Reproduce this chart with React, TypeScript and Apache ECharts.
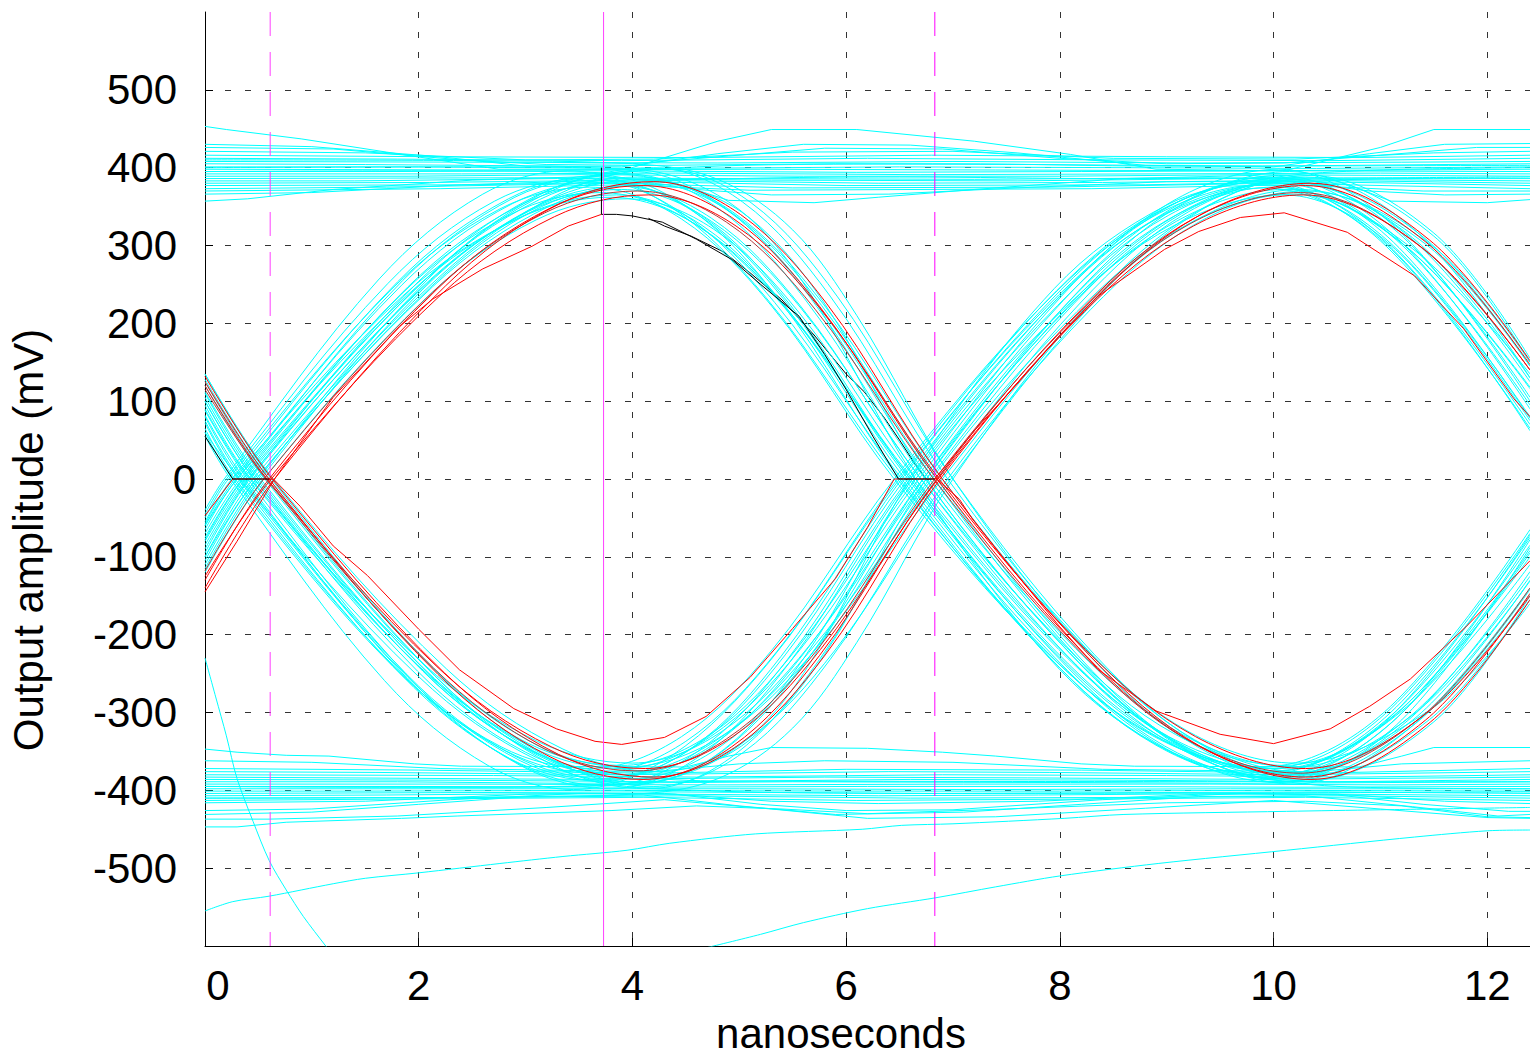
import React, { useEffect, useRef } from 'react';
import * as echarts from 'echarts';

type Pt = [number, number];

// ---- axes ----
const xTicks = [0, 2, 4, 6, 8, 10, 12];
const yTicks = [-500, -400, -300, -200, -100, 0, 100, 200, 300, 400, 500];
const xRange = [0, 12.4];
const yRange = [-600, 600];

// ---- vertical marker lines (ns) ----
const markerDashedLeft = 0.61;
const markerSolid = 3.73;
const markerDashedRight = 6.83;

// ---- cyan traces: rising first (low -> high -> low) ----
const cyanRiseFirst: Pt[][] = [
  [[0, -55], [0.25, 0], [1.8, 253], [2.84, 360], [3.7, 390], [4.54, 347], [5.38, 229], [6.5, 0], [7.86, -223], [8.88, -339], [9.9, -380], [11.04, -307], [12.4, -75]],
  [[0, -75], [0.35, 0], [1.9, 247], [2.94, 351], [3.8, 380], [4.64, 339], [5.48, 223], [6.6, 0], [7.96, -221], [8.98, -334], [10.0, -375], [11.14, -303], [12.4, -92]],
  [[0, -95], [0.42, 0], [1.99, 241], [3.03, 344], [3.9, 372], [4.74, 331], [5.58, 219], [6.7, 0], [8.06, -226], [9.08, -343], [10.1, -385], [11.25, -311], [12.4, -119]],
  [[0, -110], [0.5, 0], [2.08, 256], [3.13, 365], [4.0, 395], [4.83, 352], [5.67, 232], [6.78, 0], [8.15, -218], [9.17, -330], [10.2, -370], [11.34, -299], [12.4, -131]],
  [[0, -65], [0.3, 0], [1.9, 237], [2.96, 337], [3.85, 365], [4.66, 325], [5.47, 215], [6.55, 0], [7.95, -229], [9.0, -347], [10.05, -390], [11.15, -316], [12.4, -88]],
  [[0, -85], [0.4, 0], [2.07, 250], [3.18, 356], [4.1, 385], [4.94, 343], [5.78, 226], [6.9, 0], [8.22, -215], [9.21, -325], [10.2, -365], [11.48, -295], [12.4, -160]],
  [[0, -120], [0.55, 0], [2.08, 234], [3.1, 333], [3.95, 360], [4.76, 321], [5.57, 212], [6.65, 0], [8.03, -222], [9.07, -337], [10.1, -378], [11.16, -306], [12.4, -78]],
  [[0, -100], [0.45, 0], [2.18, 258], [3.34, 368], [4.3, 398], [5.11, 355], [5.92, 234], [7.0, 0], [8.32, -225], [9.31, -340], [10.3, -382], [11.46, -309], [12.4, -155]],
  [[0, -50], [0.22, 0], [1.74, 243], [2.76, 347], [3.6, 375], [4.46, 334], [5.31, 221], [6.45, 0], [7.85, -219], [8.9, -331], [9.95, -372], [11.05, -301], [12.4, -70]],
  [[0, -80], [0.38, 0], [2.03, 252], [3.13, 359], [4.05, 388], [4.88, 346], [5.71, 228], [6.82, 0], [8.15, -228], [9.15, -346], [10.15, -388], [11.33, -314], [12.4, -142]],
  [[0, -60], [0.28, 0], [1.84, 249], [2.88, 354], [3.75, 383], [4.6, 341], [5.45, 225], [6.58, 0], [7.94, -221], [8.96, -335], [9.98, -376], [11.1, -304], [12.4, -85]],
  [[0, -90], [0.41, 0], [2.0, 254], [3.07, 362], [3.95, 392], [4.79, 349], [5.62, 230], [6.74, 0], [8.09, -223], [9.11, -339], [10.12, -380], [11.26, -307], [12.4, -125]],
  [[0, -70], [0.33, 0], [1.85, 239], [2.86, 340], [3.7, 368], [4.58, 328], [5.45, 216], [6.62, 0], [7.99, -219], [9.02, -331], [10.05, -372], [11.15, -301], [12.4, -100]],
  [[0, -105], [0.48, 0], [2.13, 247], [3.23, 351], [4.15, 380], [4.96, 339], [5.77, 223], [6.85, 0], [8.19, -230], [9.2, -349], [10.2, -392], [11.3, -317], [12.4, -140]],
  [[0, -45], [0.2, 0], [1.71, 251], [2.71, 357], [3.55, 386], [4.44, 344], [5.33, 227], [6.52, 0], [7.88, -226], [8.9, -342], [9.92, -384], [11.05, -311], [12.4, -72]],
  [[0, -115], [0.52, 0], [2.04, 244], [3.06, 347], [3.9, 376], [4.74, 335], [5.58, 221], [6.7, 0], [8.06, -216], [9.08, -328], [10.1, -368], [11.2, -298], [12.4, -110]],
  [[0, -78], [0.36, 0], [2.09, 260], [3.24, 370], [4.2, 400], [5.03, 356], [5.85, 235], [6.95, 0], [8.27, -221], [9.26, -335], [10.25, -376], [11.4, -304], [12.4, -148]],
  [[0, -58], [0.26, 0], [1.85, 235], [2.92, 334], [3.8, 362], [4.64, 323], [5.48, 213], [6.6, 0], [7.96, -226], [8.98, -343], [10.0, -385], [11.12, -311], [12.4, -95]],
  [[0, -40], [0.18, 0], [1.63, 257], [2.6, 366], [3.4, 396], [4.32, 353], [5.25, 233], [6.48, 0], [7.85, -218], [8.87, -330], [9.9, -370], [11.04, -299], [12.4, -65]],
];

// ---- cyan traces: falling first (high -> low -> high) ----
const cyanFallFirst: Pt[][] = [
  [[0, 80], [0.35, 0], [1.88, -250], [2.9, -356], [3.75, -385], [4.59, -343], [5.43, -226], [6.55, 0], [7.91, 222], [8.93, 337], [9.95, 378], [11.07, 306], [12.4, 80]],
  [[0, 110], [0.5, 0], [2.03, -241], [3.05, -344], [3.9, -372], [4.73, -331], [5.57, -219], [6.68, 0], [8.03, 229], [9.04, 347], [10.05, 390], [11.17, 316], [12.4, 105]],
  [[0, 135], [0.62, 0], [2.23, -256], [3.31, -365], [4.2, -395], [5.03, -352], [5.85, -232], [6.95, 0], [8.29, 218], [9.3, 330], [10.3, 370], [11.49, 299], [12.4, 150]],
  [[0, 65], [0.28, 0], [1.8, -245], [2.81, -349], [3.65, -378], [4.5, -337], [5.35, -222], [6.48, 0], [7.85, 225], [8.87, 340], [9.9, 382], [11.01, 309], [12.4, 70]],
  [[0, 95], [0.43, 0], [2.04, -237], [3.11, -337], [4.0, -365], [4.83, -325], [5.65, -215], [6.75, 0], [8.11, 232], [9.13, 352], [10.15, 395], [11.32, 320], [12.4, 130]],
  [[0, 120], [0.56, 0], [2.15, -253], [3.22, -360], [4.1, -390], [4.86, -347], [5.61, -229], [6.62, 0], [8.01, 215], [9.06, 325], [10.1, 365], [11.14, 295], [12.4, 75]],
  [[0, 100], [0.46, 0], [1.99, -247], [3.0, -351], [3.85, -380], [4.75, -339], [5.65, -223], [6.85, 0], [8.19, 226], [9.2, 343], [10.2, 385], [11.4, 311], [12.4, 145]],
  [[0, 75], [0.33, 0], [2.0, -254], [3.12, -362], [4.05, -392], [4.85, -349], [5.65, -230], [6.72, 0], [8.03, 220], [9.02, 334], [10.0, 375], [11.2, 303], [12.4, 116]],
  [[0, 128], [0.6, 0], [2.11, -240], [3.11, -342], [3.95, -370], [4.84, -330], [5.72, -218], [6.9, 0], [8.24, 219], [9.25, 331], [10.25, 372], [11.43, 301], [12.4, 145]],
  [[0, 88], [0.4, 0], [1.93, -258], [2.95, -368], [3.8, -398], [4.64, -355], [5.48, -234], [6.6, 0], [7.98, 223], [9.02, 339], [10.05, 380], [11.15, 307], [12.4, 95]],
  [[0, 72], [0.31, 0], [1.84, -252], [2.85, -359], [3.7, -388], [4.55, -346], [5.39, -228], [6.52, 0], [7.89, 226], [8.92, 343], [9.95, 385], [11.07, 311], [12.4, 78]],
  [[0, 105], [0.48, 0], [2.04, -247], [3.08, -351], [3.95, -380], [4.78, -339], [5.61, -223], [6.72, 0], [8.07, 219], [9.09, 331], [10.1, 372], [11.22, 301], [12.4, 118]],
  [[0, 90], [0.42, 0], [1.99, -239], [3.03, -340], [3.9, -368], [4.73, -328], [5.55, -216], [6.65, 0], [8.01, 234], [9.03, 355], [10.05, 398], [11.15, 322], [12.4, 100]],
  [[0, 125], [0.58, 0], [2.19, -258], [3.26, -368], [4.15, -398], [4.95, -355], [5.74, -234], [6.8, 0], [8.16, 215], [9.18, 326], [10.2, 366], [11.3, 296], [12.4, 135]],
  [[0, 60], [0.26, 0], [1.76, -241], [2.77, -344], [3.6, -372], [4.46, -331], [5.31, -219], [6.45, 0], [7.83, 222], [8.87, 337], [9.9, 378], [11.0, 306], [12.4, 65]],
  [[0, 112], [0.52, 0], [2.09, -250], [3.13, -356], [4.0, -385], [4.83, -343], [5.67, -226], [6.78, 0], [8.13, 225], [9.14, 341], [10.15, 383], [11.28, 310], [12.4, 125]],
  [[0, 82], [0.37, 0], [1.89, -256], [2.91, -364], [3.75, -394], [4.6, -351], [5.45, -232], [6.58, 0], [7.95, 228], [8.97, 346], [10.0, 388], [11.12, 314], [12.4, 90]],
  [[0, 135], [0.64, 0], [2.26, -244], [3.35, -347], [4.25, -376], [5.07, -335], [5.89, -221], [6.98, 0], [8.33, 229], [9.34, 347], [10.35, 390], [11.5, 316], [12.4, 155]],
  [[0, 55], [0.24, 0], [1.68, -259], [2.66, -369], [3.45, -399], [4.36, -356], [5.28, -235], [6.5, 0], [7.87, 220], [8.89, 333], [9.92, 374], [11.05, 302], [12.4, 62]],
];

// ---- cyan traces joining / leaving the settled levels ----
const cyanTransitions: Pt[][] = [
  [[0, -60], [0.3, 0], [1.85, 255], [2.9, 362], [3.8, 393], [4.6, 401], [5.5, 404], [7.0, 405], [9.0, 402], [12.4, 403]],
  [[0, 395], [2.0, 396], [3.6, 394], [4.4, 380], [5.1, 335], [5.8, 225], [6.75, 0], [8.1, -225], [9.1, -340], [10.1, -383], [11.3, -310], [12.4, -130]],
  [[0, -100], [0.48, 0], [2.1, 245], [3.15, 350], [4.1, 380], [5.0, 386], [6.5, 388], [8.5, 386], [12.4, 388]],
  [[0, 410], [2.5, 409], [4.0, 405], [4.8, 385], [5.5, 320], [6.1, 210], [7.0, 0], [8.3, -230], [9.3, -345], [10.3, -388], [11.5, -312], [12.4, -150]],
  [[0, -395], [2.5, -396], [4.0, -392], [4.9, -352], [5.6, -250], [6.6, 0], [7.95, 245], [9.0, 352], [9.9, 385], [10.8, 396], [12.4, 400]],
  [[0, 400], [2.5, 401], [4.0, 398], [4.9, 356], [5.6, 252], [6.65, 0], [8.0, -245], [9.05, -352], [9.95, -385], [10.8, -396], [12.4, -398]],
  [[0, 60], [0.32, 0], [1.9, -255], [2.95, -362], [3.85, -393], [4.6, -400], [5.5, -403], [7.0, -404], [12.4, -402]],
  [[0, 100], [0.46, 0], [2.05, -248], [3.1, -352], [4.05, -382], [5.0, -388], [12.4, -389]],
  [[0, -395], [2.0, -396], [3.6, -394], [4.4, -380], [5.1, -335], [5.8, -225], [6.75, 0], [8.1, 225], [9.1, 340], [10.1, 383], [11.3, 310], [12.4, 130]],
  [[0, -410], [2.5, -409], [4.0, -405], [4.8, -385], [5.5, -320], [6.1, -210], [7.0, 0], [8.3, 230], [9.3, 345], [10.3, 388], [11.5, 312], [12.4, 150]],
];

// ---- cyan settled high level ----
const topBand: Pt[][] = [
  [[0, 453], [0.2, 449], [0.9, 437], [1.7, 420], [2.75, 398], [3.95, 398], [4.8, 434], [5.3, 449], [6.1, 449], [7.2, 434], [8.1, 417], [8.9, 398], [10.1, 396], [11.0, 426], [11.5, 449], [12.4, 449]],
  [[0, 430], [1.0, 427], [2.2, 414], [3.0, 402], [3.9, 401], [4.8, 418], [5.6, 430], [6.6, 429], [7.6, 419], [8.8, 403], [10.0, 401], [10.9, 418], [11.6, 430], [12.4, 431]],
  [[0, 426], [1.2, 424], [2.4, 410], [3.2, 404], [4.0, 405], [4.9, 415], [5.8, 425], [6.9, 424], [8.0, 412], [9.0, 405], [10.1, 406], [11.0, 416], [11.9, 426], [12.4, 426]],
  [[0, 421], [1.5, 419], [3.0, 410], [4.2, 411], [5.5, 420], [7.0, 421], [8.5, 412], [10.2, 411], [11.5, 419], [12.4, 421]],
  [[0, 416], [2.2, 414], [4.6, 413], [6.8, 416], [9.0, 414], [10.8, 413], [12.4, 416]],
  [[0, 412], [1.8, 411], [3.9, 409], [6.2, 412], [8.4, 410], [10.5, 409], [12.4, 412]],
  [[0, 408], [2.6, 407], [4.8, 406], [7.0, 408], [9.2, 406], [11.2, 407], [12.4, 408]],
  [[0, 405], [1.5, 404], [3.4, 402], [5.9, 405], [7.8, 404], [9.9, 402], [12.4, 405]],
  [[0, 401], [2.0, 401], [4.2, 399], [6.5, 401], [8.6, 400], [10.4, 399], [12.4, 401]],
  [[0, 398], [2.8, 397], [5.2, 398], [7.4, 397], [9.7, 396], [12.4, 398]],
  [[0, 395], [1.6, 395], [3.7, 396], [6.1, 394], [8.2, 395], [10.1, 396], [12.4, 395]],
  [[0, 392], [2.4, 392], [4.4, 393], [6.7, 391], [8.9, 392], [11.0, 393], [12.4, 392]],
  [[0, 389], [1.9, 389], [3.5, 391], [5.6, 389], [8.0, 389], [9.8, 391], [12.4, 389]],
  [[0, 386], [2.9, 387], [4.9, 386], [7.2, 385], [9.3, 387], [11.5, 386], [12.4, 386]],
  [[0, 383], [1.4, 383], [3.3, 386], [5.3, 384], [7.6, 383], [9.6, 386], [12.4, 383]],
  [[0, 380], [2.1, 381], [4.0, 384], [6.3, 380], [8.4, 381], [10.3, 384], [12.4, 380]],
  [[0, 377], [2.5, 378], [4.1, 382], [6.0, 377], [8.8, 378], [10.4, 382], [12.4, 377]],
  [[0, 373], [1.7, 375], [3.8, 380], [5.5, 374], [7.9, 375], [10.0, 380], [12.4, 373]],
  [[0, 370], [2.2, 373], [3.9, 378], [5.1, 371], [8.3, 373], [10.2, 378], [11.4, 370], [12.4, 370]],
  [[0, 366], [1.0, 368], [2.4, 378], [3.8, 384], [4.6, 372], [5.3, 365], [6.4, 366], [7.6, 374], [9.0, 382], [10.2, 382], [10.9, 370], [11.6, 365], [12.4, 366]],
  [[0, 357], [0.4, 360], [1.2, 372], [2.5, 384], [3.7, 389], [4.4, 380], [4.9, 358], [5.7, 355], [6.3, 362], [7.2, 372], [8.6, 386], [9.8, 390], [10.7, 378], [11.1, 357], [12.0, 355], [12.4, 359]],
];

// ---- cyan settled low level ----
const bottomBand: Pt[][] = [
  [[0, -347], [0.3, -351], [0.76, -355], [1.16, -356], [1.96, -366], [2.4, -369], [4.5, -370], [4.9, -356], [5.3, -345], [6.2, -346], [6.9, -351], [7.4, -356], [8.2, -366], [8.7, -369], [10.8, -370], [11.2, -356], [11.5, -345], [12.4, -345]],
  [[0, -362], [1.0, -364], [2.2, -372], [4.2, -376], [5.0, -366], [5.8, -362], [7.0, -364], [8.4, -373], [10.4, -376], [11.2, -366], [12.4, -362]],
  [[0, -372], [2.0, -374], [4.2, -378], [6.0, -373], [8.2, -374], [10.4, -378], [12.4, -372]],
  [[0, -376], [1.6, -377], [3.9, -380], [6.4, -376], [7.9, -377], [10.1, -380], [12.4, -376]],
  [[0, -380], [2.7, -381], [4.6, -383], [6.9, -380], [9.0, -381], [10.8, -383], [12.4, -380]],
  [[0, -383], [1.3, -384], [3.6, -386], [5.8, -383], [7.7, -384], [9.9, -386], [12.4, -383]],
  [[0, -386], [2.3, -387], [4.4, -389], [6.6, -386], [8.6, -387], [10.6, -389], [12.4, -386]],
  [[0, -389], [1.8, -389], [3.4, -391], [5.5, -389], [8.1, -390], [9.7, -391], [12.4, -389]],
  [[0, -392], [2.5, -392], [4.8, -393], [7.1, -392], [9.4, -392], [11.1, -393], [12.4, -392]],
  [[0, -395], [1.9, -395], [4.0, -396], [6.2, -395], [8.3, -395], [10.2, -396], [12.4, -395]],
  [[0, -398], [2.9, -398], [5.0, -398], [7.3, -399], [9.6, -398], [12.4, -398]],
  [[0, -401], [1.5, -401], [3.7, -400], [6.0, -401], [8.0, -401], [10.0, -400], [12.4, -401]],
  [[0, -404], [2.2, -403], [4.3, -402], [6.8, -404], [8.7, -403], [10.5, -402], [12.4, -404]],
  [[0, -407], [1.7, -406], [3.5, -404], [6.3, -407], [7.8, -406], [9.8, -404], [12.4, -407]],
  [[0, -410], [2.6, -409], [4.5, -407], [6.6, -410], [8.9, -409], [10.7, -407], [12.4, -410]],
  [[0, -413], [2.0, -411], [4.1, -409], [6.1, -413], [8.5, -411], [10.3, -409], [12.4, -413]],
  [[0, -416], [1.5, -414], [3.0, -405], [4.3, -404], [5.3, -414], [6.3, -417], [7.8, -414], [9.3, -405], [10.6, -405], [11.6, -414], [12.4, -417]],
  [[0, -426], [1.0, -424], [2.3, -412], [3.5, -404], [4.4, -405], [5.2, -418], [6.0, -426], [7.0, -425], [8.4, -412], [9.7, -404], [10.6, -406], [11.4, -418], [12.2, -427], [12.4, -427]],
  [[0, -431], [1.0, -428], [2.0, -418], [3.0, -408], [4.1, -406], [5.0, -420], [5.9, -431], [7.1, -428], [8.2, -418], [9.3, -408], [10.3, -407], [11.3, -421], [12.1, -433], [12.4, -431]],
  [[0, -437], [0.6, -437], [1.8, -433], [3.2, -422], [4.3, -412], [5.3, -424], [6.2, -436], [7.4, -434], [8.8, -423], [10.0, -413], [11.0, -424], [12.0, -435], [12.4, -436]],
  [[0, -447], [0.3, -447], [0.76, -441], [1.84, -436], [2.36, -433], [3.8, -426], [4.6, -420], [5.4, -424], [6.2, -430], [7.5, -424], [9.0, -416], [10.3, -414], [11.2, -420], [12.0, -434], [12.4, -435]],
];

// ---- stray cyan traces (start-up transients) ----
const strayTraces: Pt[][] = [
  [[0, -230], [0.1, -280], [0.2, -330], [0.3, -385], [0.45, -440], [0.6, -490], [0.76, -528], [0.92, -562], [1.13, -600], [1.2, -612]],
  [[0, -555], [0.26, -543], [0.6, -536], [1.2, -520], [1.5, -513], [2.0, -506], [2.76, -494], [3.35, -485], [3.95, -477], [4.35, -468], [5.15, -456], [6.15, -450], [6.52, -445], [7.0, -443], [8.04, -436], [8.6, -431], [10.12, -427], [11.0, -425], [12.4, -422]],
  [[4.7, -602], [5.2, -585], [5.6, -570], [6.2, -552], [6.84, -538], [7.4, -524], [8.0, -510], [8.92, -494], [10.12, -477], [11.32, -460], [12.0, -452], [12.4, -451]],
];

// ---- red traces ----
const redRiseFirst: Pt[][] = [
  [[0, -130], [0.6, 0], [2.18, 245], [3.23, 348], [4.1, 377], [4.93, 336], [5.75, 222], [6.85, 0], [8.23, -225], [9.27, -341], [10.3, -383], [11.42, -310], [12.4, -147]],
  [[0, -118], [0.55, 0], [2.13, 240], [3.18, 342], [4.05, 370], [4.88, 330], [5.71, 218], [6.82, 0], [8.19, -222], [9.22, -337], [10.25, -378], [11.38, -306], [12.4, -140]],
  [[0, -140], [0.65, 0], [2.25, 248], [3.31, 353], [4.2, 382], [5.01, 340], [5.82, 225], [6.9, 0], [8.28, -227], [9.32, -344], [10.35, -386], [11.47, -312], [12.4, -155]],
  [[0, -125], [0.62, 0], [2.21, 237], [3.27, 337], [4.15, 365], [4.97, 325], [5.78, 215], [6.87, 0], [8.24, -219], [9.27, -331], [10.3, -372], [11.43, -301], [12.4, -150]],
];
const redFallFirst: Pt[][] = [
  [[0, 125], [0.6, 0], [2.18, -251], [3.23, -357], [4.1, -386], [4.93, -344], [5.75, -227], [6.85, 0], [8.23, 222], [9.27, 336], [10.3, 377], [11.42, 305], [12.4, 147]],
  [[0, 115], [0.57, 0], [2.14, -243], [3.18, -347], [4.05, -375], [4.88, -334], [5.72, -221], [6.83, 0], [8.2, 216], [9.22, 328], [10.25, 368], [11.38, 298], [12.4, 140]],
  [[0, 132], [0.63, 0], [2.24, -249], [3.31, -354], [4.2, -383], [5.0, -341], [5.81, -225], [6.88, 0], [8.27, 223], [9.31, 339], [10.35, 380], [11.46, 307], [12.4, 152]],
  [[0, 120], [0.58, 0], [2.17, -241], [3.24, -344], [4.12, -372], [4.94, -331], [5.76, -219], [6.86, 0], [8.23, 215], [9.25, 325], [10.28, 365], [11.41, 295], [12.4, 140]],
];
const redOutliers: Pt[][] = [
  [[0, -47], [0.26, 0], [0.64, 0], [0.89, -35], [1.2, -86], [1.52, -124], [2.0, -193], [2.38, -245], [2.89, -295], [3.29, -321], [3.65, -337], [3.9, -341], [4.3, -332], [4.69, -305], [5.1, -255], [5.5, -192], [5.9, -128], [6.2, -62], [6.45, 0], [6.85, 0], [7.06, -26], [7.18, -51], [7.58, -120], [8.0, -190], [8.36, -245], [8.9, -298], [9.5, -328], [10.0, -340], [10.53, -321], [10.9, -292], [11.28, -257], [11.8, -190], [12.4, -105]],
  [[0, -145], [0.3, -80], [0.65, 0], [1.2, 105], [1.82, 196], [2.13, 231], [2.6, 270], [3.06, 299], [3.4, 325], [3.71, 340]],
  [[6.83, 0], [7.2, 62], [7.6, 122], [8.0, 185], [8.36, 235], [8.98, 295], [9.3, 318], [9.69, 336], [10.1, 342], [10.69, 317], [11.32, 261], [11.78, 193], [12.25, 103], [12.4, 80]],
];

// ---- black traces ----
const blackUnder: Pt[][] = [
  [[4.15, 335], [4.3, 325], [4.55, 312], [4.85, 292], [5.1, 265], [5.4, 230], [5.7, 185], [6.0, 135], [6.17, 112], [6.35, 80], [6.5, 50], [6.65, 18], [6.75, 0]],
];
const blackOver: Pt[][] = [
  [[0, 55], [0.26, 0], [0.6, 0]],
  [[3.71, 400], [3.71, 340], [3.85, 340], [4.0, 338], [4.28, 330], [4.6, 308], [4.93, 282], [5.2, 250], [5.56, 209], [5.8, 160], [6.0, 115], [6.25, 55], [6.49, 0], [6.83, 0]],
];

const FONT = "'Liberation Sans', Arial, Helvetica, sans-serif";
const CYAN = '#00ffff';
const RED = '#ff0000';
const DARKRED = '#b03a3a';

function lineSeries(data: Pt[], color: string, smooth: number | boolean, width = 1, dash?: any) {
  return {
    type: 'line',
    data,
    symbol: 'none',
    showSymbol: false,
    silent: true,
    smooth,
    lineStyle: { color, width, type: dash || 'solid' },
  };
}

function buildOption() {
  const series: any[] = [];
  blackUnder.forEach((d) => series.push(lineSeries(d, '#000000', false)));
  topBand.forEach((d) => series.push(lineSeries(d, CYAN, false)));
  bottomBand.forEach((d) => series.push(lineSeries(d, CYAN, false)));
  strayTraces.forEach((d) => series.push(lineSeries(d, CYAN, 0.3)));
  cyanRiseFirst.forEach((d) => series.push(lineSeries(d, CYAN, 0.35)));
  cyanFallFirst.forEach((d) => series.push(lineSeries(d, CYAN, 0.35)));
  cyanTransitions.forEach((d) => series.push(lineSeries(d, CYAN, 0.35)));
  redRiseFirst.forEach((d, i) => series.push(lineSeries(d, i === 1 ? DARKRED : RED, 0.35)));
  redFallFirst.forEach((d, i) => series.push(lineSeries(d, i === 1 ? DARKRED : RED, 0.35)));
  redOutliers.forEach((d) => series.push(lineSeries(d, RED, false)));
  blackOver.forEach((d) => series.push(lineSeries(d, '#000000', false)));
  series.push(lineSeries([[markerDashedLeft, yRange[1]], [markerDashedLeft, yRange[0]]], '#ff40ff', false, 1, [24, 16]));
  series.push(lineSeries([[markerSolid, yRange[1]], [markerSolid, yRange[0]]], '#ff40ff', false, 1));
  series.push(lineSeries([[markerDashedRight, yRange[1]], [markerDashedRight, yRange[0]]], '#ff00ff', false, 1, [24, 16]));

  const gridLine = { show: true, lineStyle: { color: '#333333', width: 1, type: [6, 14] } };

  return {
    animation: false,
    backgroundColor: '#ffffff',
    grid: { left: 205, right: 0, top: 12, bottom: 110, containLabel: false },
    xAxis: {
      type: 'value',
      min: xRange[0],
      max: xRange[1],
      interval: 2,
      axisLine: { show: true, onZero: false, lineStyle: { color: '#000', width: 1 } },
      axisTick: { show: true, inside: true, length: 8, lineStyle: { color: '#000' }, customValues: xTicks },
      axisLabel: {
        customValues: xTicks,
        margin: 18,
        color: '#000',
        fontFamily: FONT,
        fontSize: 42,
        formatter: (v: number) => (v === 0 ? '{z|0}' : '{n|' + v + '}'),
        rich: {
          z: { fontFamily: FONT, fontSize: 42, color: '#000', padding: [0, 0, 0, 26] },
          n: { fontFamily: FONT, fontSize: 42, color: '#000' },
        },
      },
      splitLine: gridLine,
    },
    yAxis: {
      type: 'value',
      min: yRange[0],
      max: yRange[1],
      interval: 100,
      axisLine: { show: true, onZero: false, lineStyle: { color: '#000', width: 1 } },
      axisTick: { show: true, inside: true, length: 8, lineStyle: { color: '#000' }, customValues: yTicks },
      axisLabel: {
        customValues: yTicks,
        margin: 9,
        color: '#000',
        fontFamily: FONT,
        fontSize: 42,
        formatter: (v: number) => (v === 0 ? '{z|0}' : '{n|' + v + '}'),
        rich: {
          z: { fontFamily: FONT, fontSize: 42, color: '#000' },
          n: { fontFamily: FONT, fontSize: 42, color: '#000', padding: [0, 19, 0, 0] },
        },
      },
      splitLine: gridLine,
    },
    graphic: [
      {
        type: 'text',
        x: 841,
        y: 1033,
        silent: true,
        style: { text: 'nanoseconds', fontFamily: FONT, fontSize: 42, fill: '#000', align: 'center', verticalAlign: 'middle' },
      },
      {
        type: 'text',
        x: 28,
        y: 540,
        rotation: Math.PI / 2,
        silent: true,
        style: { text: 'Output amplitude (mV)', fontFamily: FONT, fontSize: 42, fill: '#000', align: 'center', verticalAlign: 'middle' },
      },
    ],
    series,
  };
}

export default function App() {
  const ref = useRef<HTMLDivElement>(null);
  useEffect(() => {
    if (!ref.current) return;
    const chart = echarts.init(ref.current, null, { renderer: 'svg' });
    chart.setOption(buildOption() as any);
    return () => chart.dispose();
  }, []);
  return (
    <div
      ref={ref}
      style={{ position: 'absolute', left: 0, top: 0, width: 1530, height: 1056, background: '#ffffff' }}
    />
  );
}
